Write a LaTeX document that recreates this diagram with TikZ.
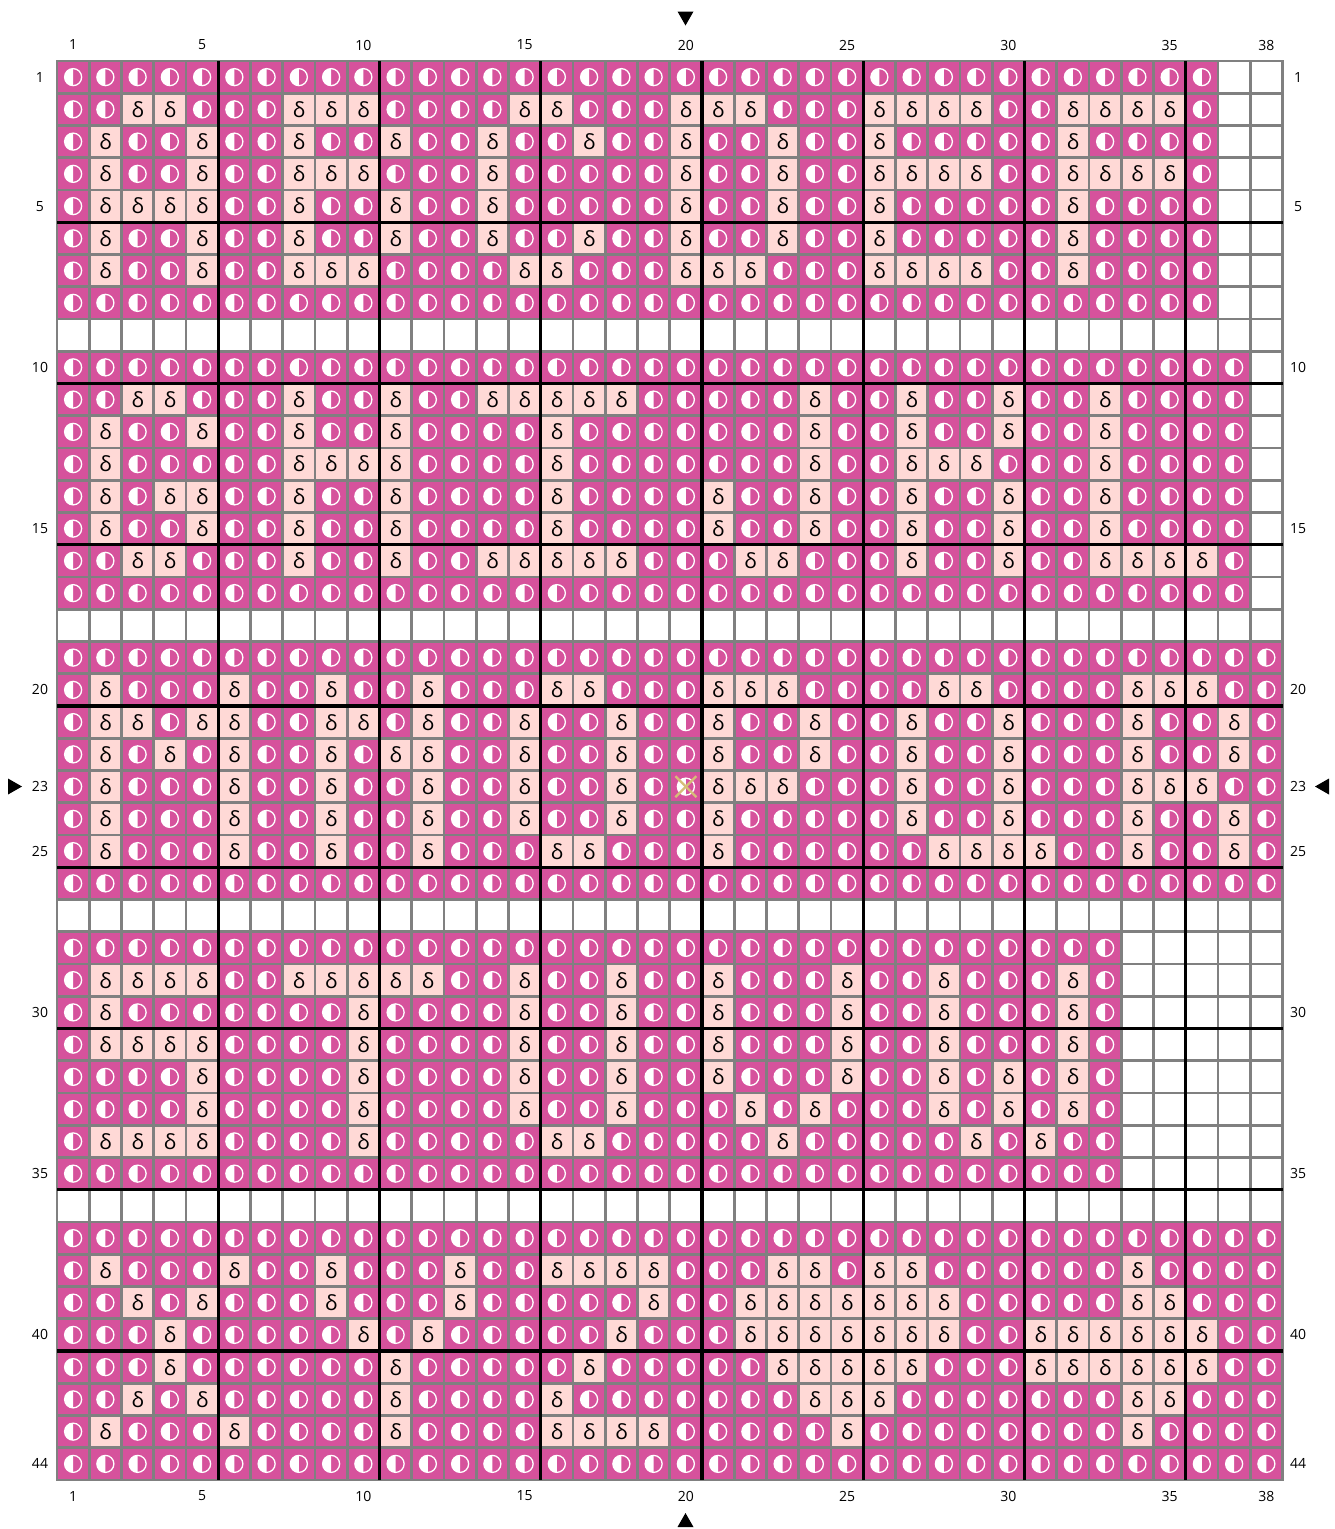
\documentclass[tikz,border=0pt]{standalone}
\usepackage{fontspec}
\setmainfont{Open Sans}
\definecolor{pinkc}{RGB}{214,82,156}
\definecolor{lightc}{RGB}{255,217,214}
\definecolor{gridc}{RGB}{128,128,128}
\definecolor{markc}{RGB}{214,190,120}
\tikzset{
  gridline/.style={draw=gridc,line width=2.6pt,line cap=rect},
  majorline/.style={draw=black,line width=3.4pt},
  symtxt/.style={font=\fontsize{21}{21}\selectfont,text=black,inner sep=0pt},
  lbl/.style={font=\fontsize{14}{14}\selectfont,text=black,inner sep=0pt},
  pointer/.style={fill=black}
}
\newcount\colidx
\def\cellrow#1#2{\gdef\currow{#1}\global\colidx=0 \cellscan#2\relax}
\def\cellscan#1{\ifx#1\relax\else\global\advance\colidx by 1 \cellput#1\expandafter\cellscan\fi}
\def\cellput#1{%
  \pgfmathsetmacro\cx{57+(\the\colidx-0.5)*32.25}%
  \pgfmathsetmacro\cy{61+(\currow-0.5)*32.25}%
  \edef\nname{c\currow x\the\colidx}%
  \if#1o\relax
    \fill[pinkc] (\cx-16.125,\cy-16.125) rectangle (\cx+16.125,\cy+16.125);
    \fill[white] (\cx,\cy+8.5) arc[start angle=90,end angle=270,radius=8.5] -- cycle;
    \draw[white,line width=1.3pt] (\cx,\cy) circle[radius=8.5];
  \fi
  \if#1d\relax
    \fill[lightc] (\cx-16.125,\cy-16.125) rectangle (\cx+16.125,\cy+16.125);
    \node[symtxt] (\nname) at (\cx,\cy) {δ};
  \fi}
\begin{document}
\begin{tikzpicture}[x=1pt,y=-1pt]
\useasboundingbox (0,0) rectangle (1334,1529);
\fill[white] (0,0) rectangle (1334,1529);
\cellrow{1}{ooooo ooooo ooooo ooooo ooooo ooooo ooooo o..}
\cellrow{2}{ooddo ooddd ooood doood ddooo ddddo odddd o..}
\cellrow{3}{odood oodoo doodo odood oodoo doooo odooo o..}
\cellrow{4}{odood ooddd ooodo ooood oodoo ddddo odddd o..}
\cellrow{5}{odddd oodoo doodo ooood oodoo doooo odooo o..}
\cellrow{6}{odood oodoo doodo odood oodoo doooo odooo o..}
\cellrow{7}{odood ooddd ooood doood ddooo ddddo odooo o..}
\cellrow{8}{ooooo ooooo ooooo ooooo ooooo ooooo ooooo o..}
\cellrow{10}{ooooo ooooo ooooo ooooo ooooo ooooo ooooo oo.}
\cellrow{11}{ooddo oodoo doodd dddoo ooodo odood oodoo oo.}
\cellrow{12}{odood oodoo doooo doooo ooodo odood oodoo oo.}
\cellrow{13}{odooo ooddd doooo doooo ooodo odddo oodoo oo.}
\cellrow{14}{ododd oodoo doooo doooo doodo odood oodoo oo.}
\cellrow{15}{odood oodoo doooo doooo doodo odood oodoo oo.}
\cellrow{16}{ooddo oodoo doodd dddoo oddoo odood ooddd do.}
\cellrow{17}{ooooo ooooo ooooo ooooo ooooo ooooo ooooo oo.}
\cellrow{19}{ooooo ooooo ooooo ooooo ooooo ooooo ooooo ooo}
\cellrow{20}{odooo doodo odooo ddooo dddoo ooddo ooodd doo}
\cellrow{21}{oddod doodd odood oodoo doodo odood ooodo odo}
\cellrow{22}{ododo doodo ddood oodoo doodo odood ooodo odo}
\cellrow{23}{odooo doodo odood oodoo dddoo odood ooodd doo}
\cellrow{24}{odooo doodo odood oodoo doooo odood ooodo odo}
\cellrow{25}{odooo doodo odooo ddooo doooo ooddd doodo odo}
\cellrow{26}{ooooo ooooo ooooo ooooo ooooo ooooo ooooo ooo}
\cellrow{28}{ooooo ooooo ooooo ooooo ooooo ooooo ooo.. ...}
\cellrow{29}{odddd ooddd ddood oodoo doood oodoo odo.. ...}
\cellrow{30}{odooo ooood ooood oodoo doood oodoo odo.. ...}
\cellrow{31}{odddd ooood ooood oodoo doood oodoo odo.. ...}
\cellrow{32}{ooood ooood ooood oodoo doood oodod odo.. ...}
\cellrow{33}{ooood ooood ooood oodoo ododo oodod odo.. ...}
\cellrow{34}{odddd ooood ooooo ddooo oodoo ooodo doo.. ...}
\cellrow{35}{ooooo ooooo ooooo ooooo ooooo ooooo ooo.. ...}
\cellrow{37}{ooooo ooooo ooooo ooooo ooooo ooooo ooooo ooo}
\cellrow{38}{odooo doodo oodoo ddddo ooddo ddooo ooodo ooo}
\cellrow{39}{oodod ooodo oodoo ooodo odddd dddoo ooodd ooo}
\cellrow{40}{ooodo ooood odooo oodoo odddd dddoo ddddd doo}
\cellrow{41}{ooodo ooooo doooo odooo ooddd ddooo ddddd doo}
\cellrow{42}{oodod ooooo doooo doooo ooodd doooo ooodd ooo}
\cellrow{43}{odooo doooo doooo ddddo ooood ooooo ooodo ooo}
\cellrow{44}{ooooo ooooo ooooo ooooo ooooo ooooo ooooo ooo}
% grid
\foreach \i in {0,...,38} \draw[gridline] ({57+\i*32.25},61) -- ({57+\i*32.25},1480);
\foreach \j in {0,...,44} \draw[gridline] (57,{61+\j*32.25}) -- (1282.5,{61+\j*32.25});
\foreach \i in {5,10,...,35} \draw[majorline] ({57+\i*32.25},61) -- ({57+\i*32.25},1480);
\foreach \j in {5,10,...,40} \draw[majorline] (57,{61+\j*32.25}) -- (1282.5,{61+\j*32.25});
% centre mark
\coordinate (ctr) at (685.875,786.625);
\draw[markc,line width=2.4pt] ([shift={(-10.5,-10.5)}]ctr) -- ([shift={(10.5,10.5)}]ctr);
\draw[markc,line width=2.4pt] ([shift={(-10.5,10.5)}]ctr) -- ([shift={(10.5,-10.5)}]ctr);
% labels
\foreach \c in {1,5,10,15,20,25,30,35,38} {
  \node[lbl] (ct\c) at ({57+(\c-0.5)*32.25},45) {\c};
  \node[lbl] (cb\c) at ({57+(\c-0.5)*32.25},1496) {\c};
}
\foreach \r in {1,5,10,15,20,23,25,30,35,40,44} {
  \node[lbl] (rl\r) at (40,{61+(\r-0.5)*32.25}) {\r};
  \node[lbl] (rr\r) at (1298,{61+(\r-0.5)*32.25}) {\r};
}
% pointers
\fill[pointer] (677.5,11.5) -- (693.5,11.5) -- (685.5,25.5) -- cycle;
\fill[pointer] (677.5,1527) -- (693.5,1527) -- (685.5,1513) -- cycle;
\fill[pointer] (8,778.5) -- (8,794.5) -- (22,786.5) -- cycle;
\fill[pointer] (1329,778.5) -- (1329,794.5) -- (1315,786.5) -- cycle;
\end{tikzpicture}
\end{document}
